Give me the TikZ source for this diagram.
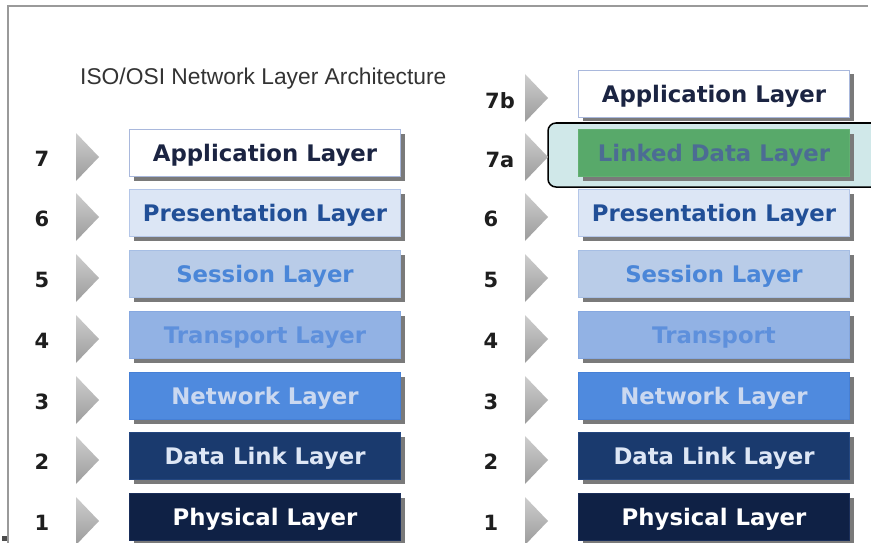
\documentclass[tikz,border=0pt]{standalone}
\usepackage{fontspec}
\setmainfont{DejaVu Sans}
\newfontfamily\titlefont{Liberation Sans}
\usetikzlibrary{shadows}

\definecolor{framegray}{HTML}{9A9A9A}
\definecolor{shgray}{HTML}{7A7A7A}
\definecolor{numcol}{HTML}{1E1E1E}
\definecolor{arrtop}{HTML}{CDCDCD}
\definecolor{arrbot}{HTML}{9C9C9C}
% layer fills, borders and text colours
\definecolor{appfill}{HTML}{FFFFFF}\definecolor{appdraw}{HTML}{A9B8DC}\definecolor{apptext}{HTML}{1B2442}
\definecolor{prefill}{HTML}{DCE6F5}\definecolor{predraw}{HTML}{B4C6E8}\definecolor{pretext}{HTML}{214F97}
\definecolor{sesfill}{HTML}{B9CCE8}\definecolor{sesdraw}{HTML}{A6BEE4}\definecolor{sestext}{HTML}{4A86D8}
\definecolor{trafill}{HTML}{92B2E4}\definecolor{tradraw}{HTML}{86A8E0}\definecolor{tratext}{HTML}{5E90DC}
\definecolor{netfill}{HTML}{4F8ADE}\definecolor{netdraw}{HTML}{4680D6}\definecolor{nettext}{HTML}{CAD8F0}
\definecolor{dlkfill}{HTML}{1A3A6E}\definecolor{dlkdraw}{HTML}{234680}\definecolor{dlktext}{HTML}{DDE6F5}
\definecolor{phyfill}{HTML}{0F2145}\definecolor{phydraw}{HTML}{1A2E5A}\definecolor{phytext}{HTML}{FFFFFF}
\definecolor{ldfill}{HTML}{58A96A}\definecolor{lddraw}{HTML}{62B072}\definecolor{ldtext}{HTML}{4C6C94}
\definecolor{hlfill}{HTML}{D0E8E9}

\tikzset{
  layerbox/.style={minimum width=271pt, minimum height=47pt, inner sep=0pt,
    text height=17.5pt, text depth=0pt,
    line width=1pt, font=\bfseries\fontsize{22.8}{25}\selectfont,
    drop shadow={shadow xshift=4pt, shadow yshift=-4pt, fill=shgray, opacity=1}},
  appl/.style={layerbox, fill=appfill, draw=appdraw, text=apptext},
  pres/.style={layerbox, fill=prefill, draw=predraw, text=pretext},
  sess/.style={layerbox, fill=sesfill, draw=sesdraw, text=sestext},
  tran/.style={layerbox, fill=trafill, draw=tradraw, text=tratext},
  netw/.style={layerbox, fill=netfill, draw=netdraw, text=nettext},
  dlnk/.style={layerbox, fill=dlkfill, draw=dlkdraw, text=dlktext},
  phys/.style={layerbox, fill=phyfill, draw=phydraw, text=phytext},
  lnkd/.style={layerbox, fill=ldfill, draw=lddraw, text=ldtext},
  numlabel/.style={font=\bfseries\fontsize{21}{23}\selectfont, text=numcol, inner sep=0pt},
  pointer/.style={top color=arrtop, bottom color=arrbot, draw=none}
}

% gray pointer triangle whose left edge is at x and apex at height y
\newcommand{\pointerat}[2]{%
  \shade[pointer] (#1,#2-24) -- (#1+23,#2) -- (#1,#2+24) -- cycle;}

\begin{document}
\begin{tikzpicture}[x=1pt, y=-1pt]
  \useasboundingbox (0,0) rectangle (871,543);
  \fill[white] (0,0) rectangle (871,543);

  % frame lines
  \draw[framegray, line width=1.5pt] (8,543) -- (8,6) -- (868,6);
  \fill[black!70] (2,536) rectangle (7,541);

  % title
  \node[font=\titlefont\fontsize{22.8}{25}\selectfont, text=black!80, anchor=west, inner sep=0pt]
    (title) at (80,79) {ISO/OSI Network Layer Architecture};

  % ---------- left stack ----------
  \node[appl] (L7) at (265,153) {Application Layer};
  \node[pres] (L6) at (265,213) {Presentation Layer};
  \node[sess] (L5) at (265,274) {Session Layer};
  \node[tran] (L4) at (265,335) {Transport Layer};
  \node[netw] (L3) at (265,396) {Network Layer};
  \node[dlnk] (L2) at (265,456) {Data Link Layer};
  \node[phys] (L1) at (265,517) {Physical Layer};

  \foreach \n/\y in {7/153,6/213,5/274,4/335,3/396,2/456,1/517}{
    \pointerat{76}{\y+4}
    \node[numlabel] (ln\n) at (42,\y+6) {\n};
  }

  % ---------- right stack ----------
  \draw[black, line width=1.5pt, fill=hlfill, rounded corners=8pt]
    (890,123) -- (548,123) -- (548,187) -- (890,187);

  \node[appl] (R7b) at (714,94) {Application Layer};
  \node[lnkd] (R7a) at (714,153) {Linked Data Layer};
  \node[pres] (R6) at (714,213) {Presentation Layer};
  \node[sess] (R5) at (714,274) {Session Layer};
  \node[tran] (R4) at (714,335) {Transport};
  \node[netw] (R3) at (714,396) {Network Layer};
  \node[dlnk] (R2) at (714,456) {Data Link Layer};
  \node[phys] (R1) at (714,517) {Physical Layer};

  \foreach \n/\y in {7b/94,7a/153,6/213,5/274,4/335,3/396,2/456,1/517}{
    \pointerat{525}{\y+4}
  }
  \node[numlabel] (rn7b) at (500,101) {7b};
  \node[numlabel] (rn7a) at (500,160) {7a};
  \foreach \n/\y in {6/213,5/274,4/335,3/396,2/456,1/517}{
    \node[numlabel] (rn\n) at (491,\y+6) {\n};
  }
\end{tikzpicture}
\end{document}
